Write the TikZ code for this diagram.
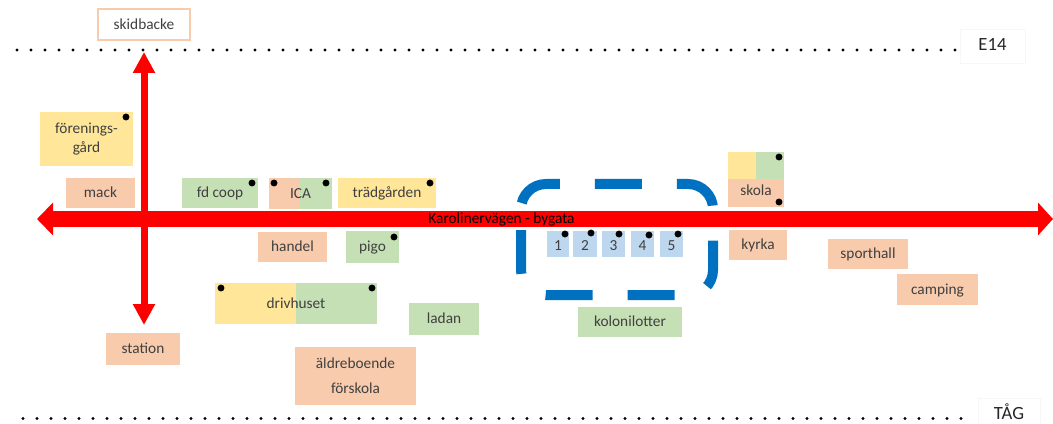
\documentclass[tikz,border=0pt]{standalone}
\usepackage{fontspec}
\setmainfont{Carlito}
\usetikzlibrary{arrows.meta}
\definecolor{salm}{HTML}{F8CBAD}
\definecolor{grn}{HTML}{C5E0B4}
\definecolor{yel}{HTML}{FFE699}
\definecolor{lblue}{HTML}{BDD7EE}
\definecolor{dblue}{HTML}{0070C0}
\definecolor{roadred}{HTML}{FF0000}
\definecolor{txt}{HTML}{404040}
\tikzset{
  lbl/.style={inner sep=0pt, outer sep=0pt, text=txt, font=\fontsize{11.5}{14}\selectfont},
  box/.style={lbl, text height=8pt, text depth=0.6pt},
  mbox/.style={lbl, align=center},
  pin/.style={fill=black},
  dotline/.style={line width=2.4pt, line cap=round, dash pattern=on 0pt off 10.5pt, black},
  road/.style={draw=roadred, roadred},
  area/.style={draw=dblue, line width=7.5pt, rounded corners=18.75pt, dash pattern=on 35.25pt off 26.25pt, dash phase=41.25pt},
  endlbl/.style={box, draw=black!3, line width=0.6pt, text=black!85, font=\fontsize{14}{16}\selectfont},
}
% \placebox{name}{options}{x1}{y1}{x2}{y2}{text}
\newcommand\placebox[7]{\node[#2, minimum width={(#5-#3)*0.75pt}, minimum height={(#6-#4)*0.75pt}] (#1) at ({(#3+#5)/2},{(#4+#6)/2}) {#7};}
\begin{document}
\begin{tikzpicture}[x=0.75pt,y=-0.75pt]
\useasboundingbox (0,0) rectangle (1053,424);
% dotted lines
\coordinate (e14w) at (17,50);
\coordinate (e14e) at (956,50);
\coordinate (tagw) at (23,418.5);
\coordinate (tage) at (961,418.5);
\draw[dotline] (e14w) -- (e14e);
\draw[dotline] (tagw) -- (tage);
\placebox{e14}{endlbl}{960}{29}{1025}{63}{E14}
\placebox{tag}{endlbl}{978}{398}{1040}{432}{TÅG}

% blue dashed area
\draw[area] (521,230) -- (521,184) -- (713,184) -- (713,295) -- (521,295) -- (521,230);

% boxes
\placebox{skid}{box, fill=white, draw=salm, line width=1.2pt}{98}{9}{190}{40}{skidbacke}
\placebox{foren}{mbox, fill=yel}{40}{112}{133}{166}{förenings-\\gård}
\placebox{mack}{box, fill=salm}{66}{178}{135}{208}{mack}
\placebox{fdcoop}{box, fill=grn}{182}{178}{258}{208}{fd coop}
\fill[salm] (269,178) rectangle (300,209);
\fill[grn] (300,178) rectangle (332,209);
\placebox{ica}{box}{269}{178}{332}{209}{ICA}
\placebox{tradg}{box, fill=yel}{338}{178}{436}{208}{trädgården}
\placebox{handel}{box, fill=salm}{258}{232}{327}{262}{handel}
\placebox{pigo}{box, fill=grn}{346}{231}{399}{263}{pigo}
\fill[yel] (215,283) rectangle (296,324);
\fill[grn] (296,283) rectangle (377,324);
\placebox{driv}{box}{215}{283}{377}{324}{drivhuset}
\placebox{ladan}{box, fill=grn}{409}{303}{479}{335}{ladan}
\placebox{aldre}{mbox, fill=salm}{295}{347}{416}{405}{äldreboende\\[4.5pt]förskola}
\placebox{station}{box, fill=salm}{106}{333}{180}{365}{station}
\fill[yel] (728,152) rectangle (756,179);
\fill[grn] (756,152) rectangle (784,179);
\placebox{skola}{box, fill=salm}{728}{179}{784}{207}{\raisebox{2pt}{skola}}
\placebox{kyrka}{box, fill=salm}{729}{230}{787}{260}{kyrka}
\placebox{sporthall}{box, fill=salm}{828}{239}{908}{269}{sporthall}
\placebox{camping}{box, fill=salm}{897}{274}{978}{305}{camping}
\placebox{koloni}{box, fill=grn}{578}{307}{682}{337}{kolonilotter}
\placebox{lot1}{box, fill=lblue}{547}{231}{569}{257}{\raisebox{-1.2pt}{1}}
\placebox{lot2}{box, fill=lblue}{573}{231}{597}{257}{\raisebox{-1.2pt}{2}}
\placebox{lot3}{box, fill=lblue}{602}{231}{625}{257}{\raisebox{-1.2pt}{3}}
\placebox{lot4}{box, fill=lblue}{631}{231}{654}{257}{\raisebox{-1.2pt}{4}}
\placebox{lot5}{box, fill=lblue}{660}{231}{683}{257}{\raisebox{-1.2pt}{5}}

% black dots
\foreach \p in {(126,117),(252,183),(274,183),(326,183),(430,183),(394,237),(221,288),(372,288),(779,157),(779,202),(565,234),(591,233),(619,234),(649,235),(678,234)}
  \fill[pin] \p circle (2.6pt);

% roads
\coordinate (roadW) at (37,219);
\coordinate (roadE) at (1053,219);
\coordinate (roadN) at (144,52);
\coordinate (roadS) at (144,325);
\draw[road, line width=12pt, {Triangle[length=12pt,width=24pt]}-{Triangle[length=11.25pt,width=24pt]}] (roadW) -- (roadE);
\draw[road, line width=5.25pt, {Triangle[length=15.75pt,width=15.75pt]}-{Triangle[length=15.75pt,width=15.75pt]}] (roadS) -- (roadN);
\node[inner sep=0pt, text=black, font=\fontsize{11.5}{14}\selectfont] (roadlbl) at (501.5,219) {Karolinervägen - bygata};
\end{tikzpicture}
\end{document}
